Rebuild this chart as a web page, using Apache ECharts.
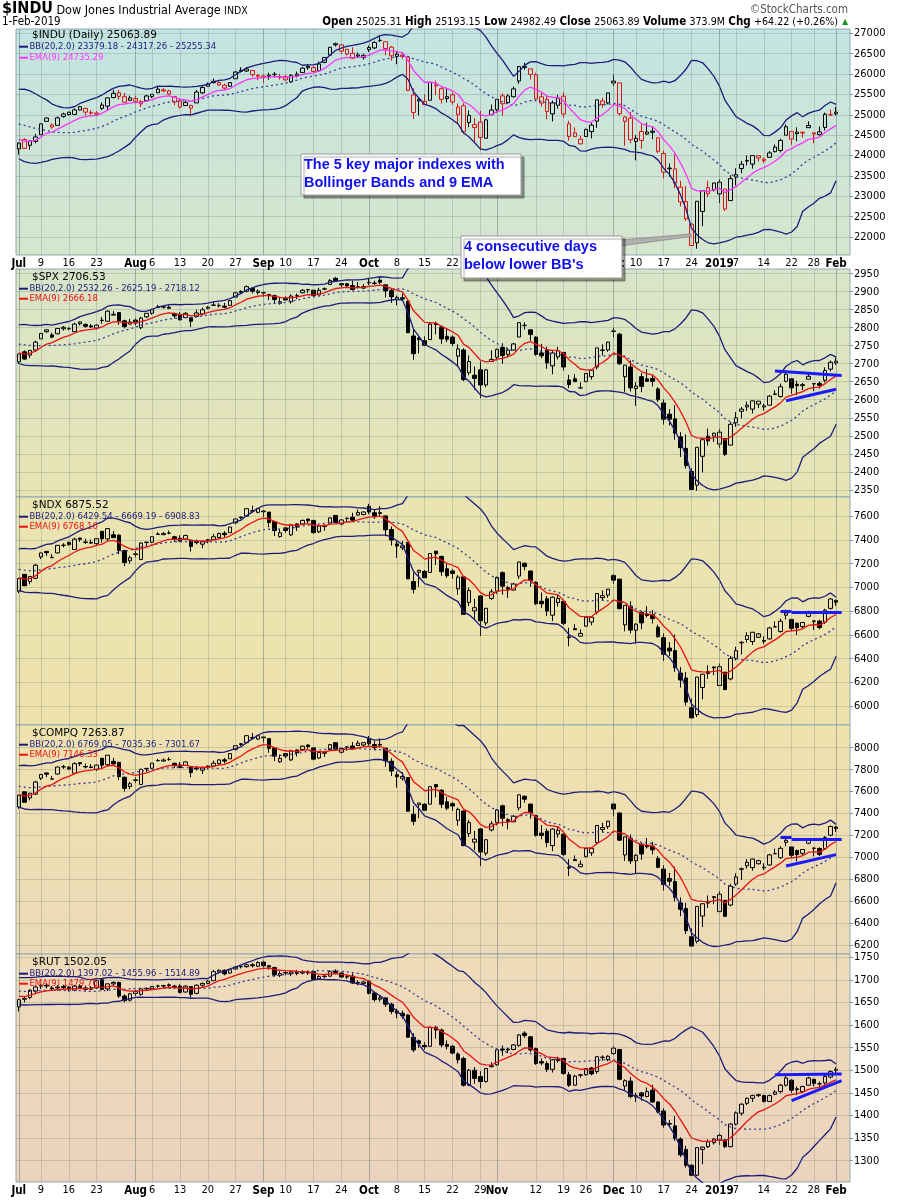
<!DOCTYPE html>
<html>
<head>
<meta charset="utf-8">
<title>$INDU, $SPX, $NDX, $COMPQ, $RUT with Bollinger Bands and 9 EMA</title>
<script src="https://cdn.jsdelivr.net/npm/echarts@6/dist/echarts.min.js"></script>
<style>
  html, body { margin: 0; padding: 0; background: #fff; }
  #chart { width: 900px; height: 1200px; }
</style>
</head>
<body>
<div id="chart"></div>
<script>
// trading days on the x axis, Jul 2 2018 .. Feb 1 2019
const dates = [
  '7/2','7/3','7/5','7/6','7/9','7/10','7/11','7/12','7/13','7/16','7/17','7/18','7/19','7/20','7/23','7/24','7/25','7/26','7/27','7/30','7/31',
  '8/1','8/2','8/3','8/6','8/7','8/8','8/9','8/10','8/13','8/14','8/15','8/16','8/17','8/20','8/21','8/22','8/23','8/24','8/27','8/28','8/29','8/30','8/31',
  '9/4','9/5','9/6','9/7','9/10','9/11','9/12','9/13','9/14','9/17','9/18','9/19','9/20','9/21','9/24','9/25','9/26','9/27','9/28',
  '10/1','10/2','10/3','10/4','10/5','10/8','10/9','10/10','10/11','10/12','10/15','10/16','10/17','10/18','10/19','10/22','10/23','10/24','10/25','10/26','10/29','10/30','10/31',
  '11/1','11/2','11/5','11/6','11/7','11/8','11/9','11/12','11/13','11/14','11/15','11/16','11/19','11/20','11/21','11/23','11/26','11/27','11/28','11/29','11/30',
  '12/3','12/4','12/6','12/7','12/10','12/11','12/12','12/13','12/14','12/17','12/18','12/19','12/20','12/21','12/24','12/26','12/27','12/28','12/31',
  '1/2','1/3','1/4','1/7','1/8','1/9','1/10','1/11','1/14','1/15','1/16','1/17','1/18','1/22','1/23','1/24','1/25','1/28','1/29','1/30','1/31',
  '2/1'
];
const xTickDates = ['7/2','7/9','7/16','7/23','8/1','8/6','8/13','8/20','8/27','9/4','9/10','9/17','9/24','10/1','10/8','10/15','10/22','10/29','11/1','11/12','11/19','11/26','12/3','12/10','12/17','12/24','1/2','1/7','1/14','1/22','1/28','2/1'];
const xTickText = ['Jul','9','16','23','Aug','6','13','20','27','Sep','10','17','24','Oct','8','15','22','29','Nov','12','19','26','Dec','10','17','24','2019','7','14','22','28','Feb'];

// y axis tick labels
const induTicks = [22000, 22500, 23000, 23500, 24000, 24500, 25000, 25500, 26000, 26500, 27000];
const spxTicks = [2350, 2400, 2450, 2500, 2550, 2600, 2650, 2700, 2750, 2800, 2850, 2900, 2950];
const ndxTicks = [6000, 6200, 6400, 6600, 6800, 7000, 7200, 7400, 7600];
const compqTicks = [6200, 6400, 6600, 6800, 7000, 7200, 7400, 7600, 7800, 8000];
const rutTicks = [1300, 1350, 1400, 1450, 1500, 1550, 1600, 1650, 1700, 1750];

// June 2018 closes, only used to seed the 20-day bands and 9-day EMA
const induJune = [24800,25146,25241,25317,25322,25320,25201,25175,25090,24987,24700,24658,24462,24581,24252,24284,24117,24216,24271];
const spxJune = [2749,2772,2770,2779,2782,2787,2776,2782,2780,2774,2763,2767,2750,2755,2717,2723,2700,2716,2718];
const ndxJune = [7150,7190,7140,7150,7165,7205,7195,7260,7250,7245,7220,7270,7210,7190,7045,7075,6965,7020,7025];
const compqJune = [7638,7689,7635,7646,7660,7704,7696,7761,7746,7747,7726,7782,7713,7693,7532,7562,7445,7504,7510];
const rutJune = [1664,1674,1669,1672,1677,1683,1681,1687,1684,1688,1689,1706,1691,1685,1662,1671,1653,1660,1643];

// daily [open, high, low, close]
const induOHLC = [
  [24161,24319,24026,24307],[24394,24424,24161,24175],[24250,24365,24146,24357],[24346,24532,24301,24456],[24510,24786,24510,24776],
  [24839,24935,24839,24920],[24748,24790,24656,24700],[24741,24957,24741,24925],[24958,25054,24929,25019],[25004,25073,24985,25064],
  [25009,25153,24985,25120],[25116,25214,25103,25199],[25156,25175,24980,25065],[25040,25110,24996,25058],[25015,25091,24965,25044],
  [25157,25305,25114,25241],[25211,25425,25118,25415],[25424,25608,25404,25527],[25542,25606,25373,25451],[25442,25535,25296,25307],
  [25354,25472,25350,25415],[25400,25466,25286,25333],[25268,25363,25188,25327],[25345,25492,25340,25463],[25443,25510,25413,25502],
  [25539,25692,25539,25629],[25612,25652,25555,25583],[25586,25615,25474,25509],[25446,25446,25234,25313],[25338,25388,25157,25188],
  [25227,25338,25227,25299],[25231,25231,24966,25162],[25292,25609,25292,25558],[25538,25716,25508,25669],[25699,25790,25690,25759],
  [25790,25888,25767,25822],[25791,25823,25708,25733],[25727,25765,25616,25656],[25700,25801,25690,25790],[25884,26074,25884,26049],
  [26091,26168,26039,26064],[26074,26167,26052,26124],[26087,26095,25929,25986],[25947,26008,25853,25965],[25916,25980,25775,25952],
  [25949,26035,25860,25974],[25985,26049,25913,25995],[25938,26002,25864,25917],[25932,25986,25835,25857],[25810,25995,25781,25971],
  [25960,26061,25915,25999],[26036,26168,26036,26145],[26188,26244,26103,26155],[26159,26189,26052,26062],[26081,26307,26081,26247],
  [26285,26415,26266,26406],[26463,26657,26463,26657],[26716,26770,26677,26744],[26717,26727,26491,26562],[26606,26618,26459,26492],
  [26509,26657,26374,26385],[26469,26531,26405,26440],[26406,26500,26352,26458],[26598,26697,26543,26651],[26640,26809,26614,26774],
  [26825,26952,26786,26828],[26792,26792,26460,26627],[26661,26690,26328,26447],[26431,26569,26241,26487],[26467,26544,26372,26431],
  [26420,26424,25580,25599],[25487,25652,24899,25053],[25378,25401,24986,25340],[25329,25506,25243,25251],[25357,25801,25357,25798],
  [25732,25834,25481,25706],[25640,25687,25279,25380],[25400,25649,25303,25444],[25490,25546,25246,25317],[25000,25277,24778,25191],
  [25221,25283,24532,24583],[24811,25107,24695,24985],[24760,24916,24329,24688],[24820,25094,24123,24443],[24424,24904,24424,24875],
  [25004,25250,24985,25116],[25122,25387,25043,25380],[25464,25528,24971,25271],[25298,25511,25274,25462],[25442,25691,25425,25636],
  [25829,26198,25759,26181],[26161,26277,26104,26191],[26126,26126,25867,25989],[25981,26029,25342,25388],[25441,25539,25207,25287],
  [25379,25483,24891,25081],[25022,25350,24839,25290],[25233,25491,25150,25413],[25457,25561,24926,25018],[24778,24851,24367,24466],
  [24556,24694,24459,24465],[24401,24486,24270,24286],[24467,24662,24467,24640],[24588,24801,24422,24748],[24843,25373,24680,25366],
  [25256,25415,25177,25339],[25289,25538,25253,25538],[25780,25980,25708,25826],[25783,25783,24982,25027],[24839,24968,24242,24947],
  [24920,25071,24304,24389],[24346,24500,23882,24423],[24590,24779,24166,24371],[24578,24807,24509,24527],[24569,24725,24400,24597],
  [24437,24439,24056,24101],[24049,24125,23436,23592],[23690,23804,23480,23675],[23673,24022,23198,23324],[23224,23381,22749,22860],
  [22871,23254,22397,22445],[22317,22339,21792,21792],[21858,22879,21713,22878],[22629,23139,22267,23139],[23213,23381,22982,23062],
  [23153,23333,23118,23327],[23058,23413,22833,23346],[23177,23177,22638,22686],[22894,23518,22894,23433],[23474,23687,23266,23531],
  [23681,23865,23566,23787],[23865,24003,23757,23879],[23790,24002,23678,24001],[23941,24002,23854,23996],[23876,23955,23813,23910],
  [23957,24113,23957,24065],[24095,24271,24075,24207],[24124,24415,24073,24370],[24498,24765,24492,24706],[24592,24592,24259,24404],
  [24539,24691,24349,24575],[24573,24584,24439,24553],[24684,24838,24684,24737],[24558,24558,24300,24528],[24512,24712,24493,24580],
  [24688,25054,24615,25014],[25001,25124,24962,24999],[25025,25193,24982,25064]
];
const spxOHLC = [
  [2705,2727,2699,2727],[2733,2737,2711,2713],[2724,2738,2716,2737],[2738,2764,2734,2760],[2769,2785,2769,2784],
  [2789,2796,2786,2794],[2780,2786,2771,2774],[2783,2799,2782,2798],[2797,2805,2792,2801],[2797,2801,2793,2798],
  [2789,2814,2789,2810],[2811,2817,2806,2816],[2809,2812,2800,2804],[2805,2810,2800,2802],[2799,2809,2795,2807],
  [2821,2830,2811,2820],[2818,2848,2818,2846],[2835,2846,2835,2837],[2842,2843,2808,2819],[2819,2822,2798,2803],
  [2810,2824,2808,2816],[2821,2826,2806,2813],[2800,2830,2796,2827],[2830,2840,2827,2840],[2840,2853,2836,2850],
  [2856,2863,2856,2858],[2857,2862,2853,2858],[2857,2862,2852,2854],[2839,2842,2826,2833],[2835,2843,2820,2822],
  [2828,2843,2827,2840],[2828,2828,2802,2818],[2831,2850,2831,2841],[2838,2856,2834,2850],[2854,2860,2851,2857],
  [2862,2873,2861,2863],[2861,2868,2856,2862],[2860,2869,2854,2857],[2862,2876,2862,2875],[2885,2898,2885,2897],
  [2901,2904,2894,2898],[2901,2917,2898,2914],[2909,2912,2895,2901],[2898,2906,2892,2902],[2897,2900,2885,2897],
  [2892,2894,2877,2889],[2889,2892,2867,2878],[2868,2884,2864,2872],[2881,2887,2876,2877],[2872,2893,2867,2888],
  [2888,2895,2879,2889],[2897,2907,2896,2904],[2906,2908,2896,2905],[2904,2905,2886,2889],[2891,2911,2890,2904],
  [2907,2912,2904,2908],[2920,2935,2920,2931],[2937,2941,2927,2930],[2922,2924,2913,2919],[2922,2924,2914,2916],
  [2917,2931,2903,2906],[2912,2927,2909,2914],[2910,2921,2908,2914],[2926,2937,2918,2925],[2924,2931,2919,2923],
  [2932,2940,2921,2926],[2919,2920,2884,2902],[2903,2910,2869,2886],[2878,2889,2862,2884],[2883,2895,2874,2880],
  [2874,2874,2785,2786],[2777,2795,2711,2728],[2771,2776,2729,2767],[2764,2776,2749,2751],[2767,2813,2767,2810],
  [2812,2817,2782,2809],[2802,2806,2755,2769],[2776,2798,2760,2768],[2774,2779,2749,2756],[2721,2754,2691,2741],
  [2738,2743,2652,2656],[2675,2723,2668,2706],[2668,2692,2628,2659],[2683,2707,2604,2641],[2641,2685,2635,2683],
  [2706,2737,2706,2712],[2718,2742,2709,2740],[2745,2757,2700,2723],[2726,2744,2718,2738],[2738,2757,2737,2755],
  [2774,2815,2774,2814],[2806,2815,2795,2807],[2794,2794,2764,2781],[2774,2776,2722,2726],[2730,2755,2715,2722],
  [2738,2747,2686,2702],[2694,2735,2671,2730],[2719,2747,2712,2736],[2731,2733,2681,2691],[2655,2669,2632,2642],
  [2658,2671,2650,2650],[2633,2648,2631,2633],[2650,2674,2650,2673],[2664,2683,2656,2682],[2691,2744,2684,2744],
  [2737,2754,2723,2738],[2738,2761,2733,2760],[2791,2800,2773,2790],[2782,2786,2697,2700],[2664,2696,2622,2696],
  [2691,2709,2623,2633],[2631,2648,2583,2638],[2664,2674,2621,2637],[2658,2685,2650,2651],[2659,2670,2637,2651],
  [2630,2635,2594,2600],[2591,2601,2531,2546],[2560,2574,2529,2546],[2547,2585,2489,2507],[2497,2510,2441,2467],
  [2465,2504,2409,2417],[2401,2410,2351,2351],[2363,2468,2347,2468],[2443,2489,2398,2489],[2499,2520,2473,2486],
  [2499,2509,2483,2507],[2477,2519,2467,2510],[2492,2493,2444,2448],[2474,2538,2474,2532],[2536,2566,2525,2550],
  [2568,2580,2548,2574],[2580,2595,2569,2585],[2574,2598,2562,2597],[2588,2596,2577,2596],[2580,2589,2570,2583],
  [2585,2613,2585,2610],[2615,2626,2613,2616],[2609,2645,2606,2636],[2651,2675,2648,2671],[2658,2658,2617,2633],
  [2643,2653,2613,2639],[2639,2647,2627,2642],[2657,2672,2657,2665],[2645,2645,2624,2644],[2645,2651,2631,2640],
  [2654,2690,2648,2681],[2685,2709,2679,2704],[2702,2717,2697,2707]
];
const ndxOHLC = [
  [6968,7076,6952,7076],[7111,7112,7013,7015],[7050,7095,7027,7093],[7078,7199,7070,7188],[7257,7292,7240,7291],
  [7304,7306,7266,7293],[7251,7280,7246,7254],[7291,7358,7287,7355],[7355,7373,7338,7356],[7378,7388,7352,7361],
  [7320,7420,7318,7407],[7416,7418,7384,7406],[7383,7411,7366,7379],[7379,7404,7367,7374],[7369,7414,7357,7411],
  [7473,7474,7378,7410],[7409,7498,7392,7496],[7444,7475,7416,7420],[7441,7445,7281,7311],[7311,7317,7180,7210],
  [7225,7267,7200,7250],[7278,7306,7254,7283],[7236,7381,7230,7374],[7379,7384,7350,7382],[7381,7428,7373,7428],
  [7447,7464,7442,7450],[7445,7468,7440,7454],[7458,7479,7448,7458],[7427,7435,7384,7408],[7414,7439,7384,7390],
  [7405,7444,7400,7438],[7399,7399,7303,7346],[7386,7404,7363,7378],[7365,7395,7331,7386],[7403,7408,7372,7391],
  [7401,7451,7400,7427],[7421,7461,7412,7455],[7457,7474,7424,7445],[7462,7510,7461,7509],[7544,7577,7533,7577],
  [7594,7597,7573,7588],[7600,7665,7594,7664],[7647,7689,7630,7643],[7633,7670,7625,7664],[7644,7649,7593,7638],
  [7635,7635,7507,7547],[7555,7558,7434,7479],[7429,7494,7420,7460],[7502,7506,7461,7480],[7443,7536,7433,7526],
  [7535,7539,7476,7509],[7535,7572,7526,7565],[7576,7579,7541,7561],[7565,7567,7452,7462],[7469,7530,7458,7518],
  [7523,7531,7478,7513],[7542,7590,7541,7586],[7607,7610,7543,7548],[7535,7575,7523,7569],[7580,7591,7550,7583],
  [7592,7629,7559,7567],[7610,7656,7606,7632],[7615,7639,7606,7636],[7684,7705,7618,7635],[7630,7660,7578,7600],
  [7630,7685,7599,7624],[7603,7605,7432,7486],[7488,7514,7353,7399],[7367,7399,7250,7349],[7335,7392,7313,7351],
  [7380,7380,7069,7073],[7050,7125,6950,6985],[7129,7145,7006,7145],[7136,7146,7080,7082],[7127,7290,7127,7286],
  [7306,7308,7189,7284],[7261,7269,7098,7133],[7157,7203,7081,7099],[7139,7157,7073,7118],[6989,7104,6940,7088],
  [7090,7091,6769,6774],[6874,6999,6843,6974],[6803,6905,6730,6830],[6929,6938,6591,6719],[6702,6827,6680,6825],
  [6908,6987,6894,6963],[6969,7092,6945,7085],[7125,7135,6939,7011],[7000,7014,6912,6985],[6978,7039,6976,7029],
  [7096,7217,7072,7215],[7204,7211,7145,7177],[7139,7139,7006,7059],[7044,7051,6852,6863],[6884,6958,6828,6863],
  [6905,6928,6759,6801],[6767,6924,6717,6918],[6873,6942,6839,6907],[6883,6887,6682,6698],[6578,6660,6505,6584],
  [6653,6691,6642,6644],[6590,6647,6588,6613],[6674,6750,6669,6749],[6709,6759,6682,6750],[6793,6949,6773,6949],
  [6914,6975,6888,6931],[6936,6988,6914,6986],[7100,7112,7030,7062],[7070,7074,6814,6822],[6685,6851,6631,6850],
  [6842,6882,6612,6641],[6640,6700,6525,6691],[6791,6801,6649,6702],[6776,6843,6748,6764],[6772,6810,6697,6738],
  [6666,6687,6577,6586],[6577,6613,6381,6437],[6490,6540,6423,6465],[6469,6604,6289,6325],[6279,6330,6158,6221],
  [6238,6288,6006,6035],[5987,6065,5902,5902],[5929,6247,5909,6246],[6158,6271,6058,6270],[6291,6345,6232,6276],
  [6331,6333,6263,6323],[6174,6360,6173,6333],[6287,6288,6134,6141],[6230,6423,6218,6402],[6403,6501,6386,6468],
  [6534,6550,6436,6538],[6562,6623,6536,6595],[6545,6626,6517,6623],[6581,6617,6575,6609],[6553,6588,6526,6547],
  [6567,6669,6562,6659],[6668,6714,6664,6669],[6630,6737,6619,6716],[6766,6814,6730,6785],[6731,6731,6634,6655],
  [6699,6706,6600,6661],[6670,6709,6649,6705],[6757,6804,6749,6792],[6715,6724,6643,6718],[6717,6728,6648,6663],
  [6708,6821,6693,6809],[6824,6912,6814,6903],[6890,6899,6846,6876]
];
const compqOHLC = [
  [7460,7568,7444,7568],[7599,7600,7501,7503],[7543,7588,7520,7586],[7578,7699,7570,7688],[7722,7757,7705,7756],
  [7770,7772,7732,7759],[7714,7743,7709,7717],[7760,7827,7756,7824],[7825,7843,7808,7826],[7823,7833,7797,7806],
  [7768,7868,7766,7855],[7864,7866,7832,7854],[7829,7857,7812,7825],[7825,7850,7813,7820],[7800,7845,7788,7842],
  [7904,7905,7809,7841],[7845,7934,7828,7932],[7876,7907,7848,7852],[7867,7871,7707,7737],[7731,7737,7600,7630],
  [7647,7689,7622,7672],[7702,7730,7678,7707],[7665,7810,7659,7803],[7809,7814,7780,7812],[7813,7860,7805,7860],
  [7881,7898,7876,7884],[7879,7902,7874,7888],[7892,7913,7882,7892],[7858,7866,7815,7839],[7844,7869,7814,7820],
  [7838,7877,7833,7871],[7827,7827,7731,7774],[7815,7833,7792,7807],[7795,7825,7761,7816],[7833,7838,7802,7821],
  [7833,7883,7832,7859],[7855,7895,7846,7889],[7890,7907,7857,7878],[7899,7947,7898,7946],[7985,8018,7974,8018],
  [8036,8039,8015,8030],[8046,8111,8040,8110],[8092,8134,8075,8088],[8079,8116,8071,8110],[8097,8102,8046,8091],
  [8083,8083,7955,7995],[7999,8002,7878,7923],[7872,7937,7863,7903],[7946,7950,7905,7924],[7889,7982,7879,7972],
  [7980,7984,7921,7954],[7984,8021,7975,8014],[8025,8028,7990,8010],[7999,8001,7886,7896],[7907,7968,7896,7956],
  [7960,7968,7915,7950],[7984,8032,7983,8028],[8046,8049,7982,7987],[7959,7999,7947,7993],[8004,8015,7974,8007],
  [8015,8052,7982,7990],[8020,8066,8016,8042],[8025,8049,8016,8046],[8086,8107,8020,8037],[8030,8060,7978,8000],
  [8031,8086,8000,8025],[7997,7999,7826,7880],[7877,7903,7742,7788],[7754,7786,7637,7736],[7722,7779,7700,7738],
  [7729,7729,7418,7422],[7394,7469,7294,7329],[7481,7497,7358,7497],[7485,7495,7429,7431],[7486,7649,7486,7645],
  [7665,7667,7548,7643],[7613,7621,7450,7485],[7507,7553,7431,7449],[7490,7508,7424,7469],[7339,7454,7290,7438],
  [7424,7425,7103,7108],[7218,7343,7187,7318],[7140,7242,7067,7167],[7260,7269,6922,7050],[7039,7164,7017,7162],
  [7251,7330,7237,7306],[7318,7441,7294,7434],[7471,7481,7285,7357],[7344,7358,7256,7329],[7325,7386,7323,7376],
  [7452,7573,7428,7571],[7558,7565,7499,7531],[7487,7487,7354,7407],[7382,7389,7190,7201],[7222,7296,7166,7201],
  [7240,7263,7094,7136],[7108,7265,7058,7259],[7214,7283,7180,7248],[7213,7217,7012,7028],[6903,6985,6830,6909],
  [6981,7019,6970,6972],[6916,6973,6914,6939],[7007,7083,7002,7082],[7042,7092,7015,7083],[7136,7292,7116,7292],
  [7256,7317,7230,7273],[7281,7333,7259,7331],[7487,7487,7375,7442],[7406,7410,7150,7158],[7023,7189,6969,7188],
  [7170,7210,6940,6969],[6970,7030,6855,7021],[7121,7131,6979,7032],[7110,7177,7082,7098],[7104,7142,7029,7070],
  [6991,7012,6902,6911],[6894,6930,6698,6754],[6809,6859,6742,6784],[6781,6916,6601,6637],[6586,6637,6465,6528],
  [6536,6586,6304,6333],[6278,6356,6193,6193],[6237,6555,6217,6554],[6467,6580,6367,6579],[6600,6654,6541,6585],
  [6643,6645,6575,6635],[6507,6693,6506,6666],[6610,6611,6457,6464],[6567,6760,6555,6739],[6758,6856,6741,6823],
  [6893,6909,6795,6897],[6924,6985,6898,6957],[6908,6989,6880,6986],[6943,6979,6937,6971],[6912,6947,6885,6906],
  [6932,7034,6927,7024],[7034,7080,7030,7035],[6998,7105,6987,7084],[7138,7186,7102,7157],[7096,7096,6999,7020],
  [7064,7071,6965,7026],[7038,7077,7017,7073],[7130,7177,7122,7165],[7083,7092,7011,7086],[7082,7093,7013,7028],
  [7082,7195,7067,7183],[7203,7291,7193,7282],[7278,7287,7234,7264]
];
const rutOHLC = [
  [1640,1658,1630,1656],[1657,1662,1650,1659],[1661,1679,1657,1677],[1675,1687,1670,1684],[1686,1690,1680,1688],
  [1688,1690,1681,1686],[1682,1686,1677,1680],[1682,1688,1676,1684],[1685,1689,1679,1683],[1684,1686,1674,1680],
  [1677,1688,1675,1686],[1686,1690,1680,1683],[1682,1686,1676,1679],[1679,1686,1677,1682],[1682,1700,1680,1698],
  [1700,1703,1677,1679],[1680,1692,1675,1691],[1691,1697,1688,1694],[1694,1696,1660,1664],[1664,1668,1650,1654],
  [1655,1671,1652,1669],[1670,1677,1664,1674],[1668,1682,1665,1680],[1680,1683,1676,1681],[1680,1686,1677,1685],
  [1686,1689,1682,1686],[1686,1689,1681,1687],[1687,1692,1684,1689],[1686,1689,1680,1685],[1686,1690,1670,1672],
  [1673,1688,1672,1686],[1685,1686,1661,1668],[1670,1690,1668,1688],[1688,1694,1684,1692],[1692,1699,1690,1697],
  [1698,1722,1697,1718],[1717,1723,1714,1721],[1721,1723,1710,1713],[1715,1724,1713,1722],[1724,1731,1722,1728],
  [1729,1733,1725,1729],[1729,1735,1727,1733],[1733,1737,1727,1731],[1730,1741,1728,1738],[1739,1742,1727,1731],
  [1731,1733,1722,1728],[1727,1729,1707,1711],[1710,1719,1706,1714],[1715,1720,1710,1716],[1713,1720,1708,1717],
  [1717,1722,1710,1714],[1715,1721,1712,1716],[1717,1720,1711,1715],[1718,1720,1700,1701],[1702,1710,1700,1707],
  [1707,1712,1703,1708],[1708,1721,1707,1718],[1719,1723,1712,1716],[1715,1717,1704,1706],[1706,1711,1702,1707],
  [1708,1714,1691,1693],[1694,1699,1688,1693],[1692,1698,1689,1695],[1697,1699,1668,1670],[1671,1674,1652,1656],
  [1657,1666,1652,1660],[1660,1661,1640,1646],[1646,1649,1624,1630],[1631,1636,1615,1626],[1626,1632,1614,1620],
  [1622,1624,1572,1573],[1573,1582,1540,1545],[1565,1568,1549,1559],[1555,1562,1546,1552],[1553,1597,1553,1595],
  [1595,1598,1570,1589],[1589,1592,1551,1556],[1557,1566,1546,1553],[1553,1556,1535,1538],[1536,1540,1515,1523],
  [1526,1530,1464,1467],[1467,1503,1465,1500],[1500,1507,1470,1482],[1486,1498,1460,1475],[1475,1505,1473,1504],
  [1508,1518,1506,1510],[1512,1546,1510,1545],[1547,1555,1532,1545],[1545,1550,1538,1547],[1546,1558,1544,1556],
  [1555,1580,1552,1578],[1582,1586,1572,1577],[1574,1575,1540,1545],[1548,1550,1512,1515],[1519,1526,1511,1516],
  [1515,1520,1496,1502],[1502,1525,1495,1523],[1521,1530,1517,1524],[1526,1528,1490,1493],[1490,1496,1463,1467],
  [1467,1490,1466,1487],[1489,1492,1484,1490],[1490,1505,1488,1504],[1505,1507,1489,1492],[1497,1531,1492,1530],
  [1529,1533,1521,1528],[1524,1533,1520,1531],[1537,1553,1534,1549],[1546,1547,1478,1480],[1465,1480,1455,1477],
  [1476,1485,1438,1442],[1441,1450,1430,1444],[1450,1452,1433,1443],[1442,1462,1440,1453],[1456,1468,1428,1430],
  [1430,1432,1405,1408],[1410,1416,1373,1379],[1382,1390,1374,1381],[1377,1399,1344,1349],[1348,1352,1308,1313],
  [1325,1333,1285,1290],[1290,1292,1266,1268],[1268,1330,1266,1329],[1325,1331,1292,1330],[1331,1347,1328,1342],
  [1340,1350,1336,1348],[1346,1360,1335,1356],[1346,1348,1328,1331],[1331,1383,1330,1381],[1381,1409,1378,1406],
  [1405,1427,1400,1425],[1427,1440,1423,1438],[1438,1446,1430,1444],[1444,1448,1441,1446],[1444,1446,1429,1431],
  [1431,1446,1430,1444],[1447,1456,1445,1452],[1453,1470,1449,1467],[1467,1487,1464,1483],[1478,1480,1450,1456],
  [1459,1464,1445,1457],[1453,1466,1450,1464],[1467,1486,1466,1483],[1480,1481,1465,1471],[1470,1475,1463,1470],
  [1472,1490,1468,1486],[1485,1500,1482,1497],[1500,1507,1494,1502]
];

// hand-drawn trend lines: [[dayIndex, value], [dayIndex, value]]
const spxTrend = [[[136, 2680], [148, 2667]], [[138, 2597], [147, 2629]]];
const ndxTrend = [[[137, 6800], [139, 6800]], [[139, 6789], [148, 6789]]];
const compqTrend = [[[137, 7180], [139, 7180]], [[139, 7169], [148, 7169]], [[138, 6922], [147, 7026]]];
const rutTrend = [[[136, 1490], [148, 1492]], [[139, 1433], [148, 1477]]];

// legend texts shown in each panel
const induLegend = ['$INDU (Daily) 25063.89', 'BB(20,2.0) 23379.18 - 24317.26 - 25255.34', 'EMA(9) 24735.29'];
const spxLegend = ['$SPX 2706.53', 'BB(20,2.0) 2532.26 - 2625.19 - 2718.12', 'EMA(9) 2666.18'];
const ndxLegend = ['$NDX 6875.52', 'BB(20,2.0) 6429.54 - 6669.19 - 6908.83', 'EMA(9) 6768.16'];
const compqLegend = ['$COMPQ 7263.87', 'BB(20,2.0) 6769.05 - 7035.36 - 7301.67', 'EMA(9) 7146.33'];
const rutLegend = ['$RUT 1502.05', 'BB(20,2.0) 1397.02 - 1455.96 - 1514.89', 'EMA(9) 1479.76'];

const headerQuote = [['Open', '25025.31'], ['High', '25193.15'], ['Low', '24982.49'], ['Close', '25063.89'], ['Volume', '373.9M'], ['Chg', '+64.22 (+0.26%)']];

const NARROW = '"Liberation Sans Narrow", "Arial Narrow", "DejaVu Sans Condensed", sans-serif';
const VERDANA = '"DejaVu Sans", Verdana, sans-serif';
const ARIAL = '"Liberation Sans", Arial, sans-serif';
const NAVY = '#1b1b7e';
const RED = '#e01010';
const GRID_LINE = 'rgba(80, 100, 100, 0.22)';
const MONTH_LINE = 'rgba(80, 100, 100, 0.42)';
const TREND_BLUE = '#1a1aff';

const categories = dates.concat([' ', '  ']);

const PANELS = [
  { name: 'INDU', ohlc: induOHLC, warm: induJune, ticks: induTicks, range: [21559, 27105], top: 29, height: 226,
    colorByPrev: true, emaColor: '#ff33ff', legend: induLegend, legendDy: [6, 17.7, 28.7], trend: [],
    bg: ['#c3e4e2', '#d6e6cd'], showDates: true },
  { name: 'SPX', ohlc: spxOHLC, warm: spxJune, ticks: spxTicks, range: [2330, 2963], top: 269, height: 228,
    emaColor: '#ee1111', legend: spxLegend, legendDy: [8, 19.7, 29.7], trend: spxTrend, bg: ['#d8e5c8', '#e7e4b4'] },
  { name: 'NDX', ohlc: ndxOHLC, warm: ndxJune, ticks: ndxTicks, range: [5842, 7762], top: 497, height: 228,
    emaColor: '#ee1111', legend: ndxLegend, legendDy: [8, 19.7, 29.7], trend: ndxTrend, bg: ['#e9e4b2', '#eee2ac'] },
  { name: 'COMPQ', ohlc: compqOHLC, warm: compqJune, ticks: compqTicks, range: [6121, 8207], top: 725, height: 229,
    emaColor: '#ee1111', legend: compqLegend, legendDy: [8, 19.7, 29.7], trend: compqTrend, bg: ['#efe2ae', '#ecdab8'] },
  { name: 'RUT', ohlc: rutOHLC, warm: rutJune, ticks: rutTicks, range: [1253, 1757], top: 954, height: 228,
    emaColor: '#ee1111', legend: rutLegend, legendDy: [8, 19.7, 29.7], trend: rutTrend, bg: ['#eedcb9', '#ebd3bd'], showDates: true }
];

// 20-day Bollinger Bands (2 sd) and 9-day EMA on closes
function indicators(warm, ohlc) {
  const closes = warm.concat(ohlc.map((r) => r[3]));
  const upper = [];
  const middle = [];
  const lower = [];
  const ema = [];
  let e = closes[0];
  closes.forEach((v, i) => {
    if (i > 0) e += (v - e) * 0.2;
    if (i < warm.length) return;
    const w = closes.slice(i - 19, i + 1);
    const m = w.reduce((a, b) => a + b, 0) / w.length;
    const sd = Math.sqrt(w.reduce((a, b) => a + (b - m) * (b - m), 0) / w.length);
    upper.push(m + 2 * sd);
    middle.push(m);
    lower.push(m - 2 * sd);
    ema.push(e);
  });
  return { upper, middle, lower, ema };
}

function candleItems(panel) {
  return panel.ohlc.map(([o, h, l, c], i) => {
    const item = { value: [o, c, l, h] };
    if (panel.colorByPrev) {
      const prev = i ? panel.ohlc[i - 1][3] : panel.warm[panel.warm.length - 1];
      const col = c < prev ? RED : '#000';
      item.itemStyle = { color: 'transparent', color0: col, borderColor: col, borderColor0: col };
    }
    return item;
  });
}

const tickLabelOf = {};
xTickDates.forEach((d, i) => { tickLabelOf[d] = xTickText[i]; });
const isMonthLabel = (t) => !/^\d{1,2}$/.test(t);

const grids = [];
const xAxes = [];
const yAxes = [];
const series = [];
const graphics = [];

PANELS.forEach((p, i) => {
  grids.push({
    left: 16, width: 834, top: p.top, height: p.height,
    show: true, borderColor: '#8eaab2', borderWidth: 1,
    backgroundColor: new echarts.graphic.LinearGradient(0, 0, 0, 1, [
      { offset: 0, color: p.bg[0] }, { offset: 1, color: p.bg[1] }
    ])
  });
  xAxes.push({
    type: 'category', gridIndex: i, data: categories, boundaryGap: true,
    axisLine: { show: false }, axisTick: { show: false }, splitLine: { show: false },
    axisLabel: {
      show: !!p.showDates,
      interval: (idx, value) => tickLabelOf[value] !== undefined,
      formatter: (value) => {
        const t = tickLabelOf[value];
        return isMonthLabel(t) ? `{m|${t}}` : t;
      },
      margin: 3, color: '#000', fontFamily: NARROW, fontSize: 11,
      rich: { m: { fontFamily: NARROW, fontSize: 11.5, fontWeight: 'bold', color: '#000' } }
    }
  });
  yAxes.push({
    type: 'value', gridIndex: i, position: 'right', min: p.range[0], max: p.range[1],
    axisLine: { show: false }, splitLine: { show: false },
    axisTick: { show: true, length: 3, customValues: p.ticks, lineStyle: { color: '#7d98a0' } },
    axisLabel: {
      customValues: p.ticks, margin: 4, color: '#000', fontFamily: NARROW, fontSize: 11,
      formatter: (v) => String(v)
    }
  });

  const closes = p.ohlc.map((r) => r[3]);
  const gridLines = p.ticks.map((v) => ({ yAxis: v, lineStyle: { color: GRID_LINE, width: 1, type: 'solid' } }))
    .concat(xTickDates.map((d) => ({
      xAxis: d,
      lineStyle: { color: isMonthLabel(tickLabelOf[d]) ? MONTH_LINE : GRID_LINE, width: 1, type: 'solid' }
    })));
  series.push({
    type: 'line', xAxisIndex: i, yAxisIndex: i, data: closes, silent: true, z: 1,
    symbol: 'none', lineStyle: { opacity: 0, width: 0 },
    markLine: { silent: true, symbol: ['none', 'none'], label: { show: false }, animation: false, data: gridLines }
  });

  series.push({
    name: p.name, type: 'candlestick', xAxisIndex: i, yAxisIndex: i, z: 3, barWidth: 4,
    data: candleItems(p),
    itemStyle: { color: 'transparent', color0: '#000', borderColor: '#000', borderColor0: '#000', borderWidth: 1 }
  });

  const ind = indicators(p.warm, p.ohlc);
  const line = (data, color, type, width) => ({
    type: 'line', xAxisIndex: i, yAxisIndex: i, z: 4, data, symbol: 'none', silent: true,
    lineStyle: { color, width, type }
  });
  series.push(line(ind.upper, NAVY, 'solid', 1.3));
  series.push(line(ind.lower, NAVY, 'solid', 1.3));
  series.push(line(ind.middle, '#38389a', [2, 3], 1.3));
  series.push(line(ind.ema, p.emaColor, 'solid', 1.3));

  if (p.trend.length) {
    series.push({
      type: 'line', xAxisIndex: i, yAxisIndex: i, data: closes, silent: true, z: 5,
      symbol: 'none', lineStyle: { opacity: 0, width: 0 },
      markLine: {
        silent: true, symbol: ['none', 'none'], label: { show: false }, animation: false,
        lineStyle: { color: TREND_BLUE, width: 3, type: 'solid' },
        data: p.trend.map(([a, b]) => [{ coord: a }, { coord: b }])
      }
    });
  }

  // in-panel legend
  graphics.push({
    type: 'text', x: 32, y: p.top + p.legendDy[0], z: 50,
    style: { text: p.legend[0], fill: '#000', fontFamily: VERDANA, fontSize: 10.5, textVerticalAlign: 'middle' }
  });
  graphics.push({ type: 'rect', x: 19, y: p.top + p.legendDy[1] - 1, z: 50, shape: { width: 9, height: 2 }, style: { fill: NAVY } });
  graphics.push({
    type: 'text', x: 29.5, y: p.top + p.legendDy[1], z: 50,
    style: { text: p.legend[1], fill: NAVY, fontFamily: VERDANA, fontSize: 8.5, textVerticalAlign: 'middle' }
  });
  graphics.push({ type: 'rect', x: 19, y: p.top + p.legendDy[2] - 1, z: 50, shape: { width: 9, height: 2 }, style: { fill: p.emaColor } });
  graphics.push({
    type: 'text', x: 29.5, y: p.top + p.legendDy[2], z: 50,
    style: { text: p.legend[2], fill: p.emaColor, fontFamily: VERDANA, fontSize: 8.5, textVerticalAlign: 'middle' }
  });
});

// header
graphics.push({
  type: 'text', x: 2, y: 17, z: 50,
  style: {
    text: '{a|$INDU} {b|Dow Jones Industrial Average} {c|INDX}',
    textVerticalAlign: 'bottom',
    rich: {
      a: { fontFamily: NARROW, fontSize: 16, fontWeight: 'bold', fill: '#000', verticalAlign: 'bottom' },
      b: { fontFamily: NARROW, fontSize: 12.5, fill: '#000', verticalAlign: 'bottom' },
      c: { fontFamily: NARROW, fontSize: 10.5, fill: '#000', verticalAlign: 'bottom' }
    }
  }
});
graphics.push({
  type: 'text', x: 2, y: 22, z: 50,
  style: { text: '1-Feb-2019', fill: '#000', fontFamily: NARROW, fontSize: 11.5, textVerticalAlign: 'middle' }
});
graphics.push({
  type: 'text', x: 848, y: 10, z: 50,
  style: { text: '\u00a9StockCharts.com', fill: '#555', fontFamily: NARROW, fontSize: 11.5, textAlign: 'right', textVerticalAlign: 'middle' }
});
graphics.push({
  type: 'text', x: 838, y: 22, z: 50,
  style: {
    text: headerQuote.map(([k, v]) => `{k|${k}} {v|${v}}`).join(' '),
    textAlign: 'right', textVerticalAlign: 'middle',
    rich: {
      k: { fontFamily: NARROW, fontSize: 11.5, fontWeight: 'bold', fill: '#000' },
      v: { fontFamily: NARROW, fontSize: 10.6, fill: '#000' }
    }
  }
});
graphics.push({
  type: 'text', x: 845, y: 22, z: 50,
  style: { text: '\u25b2', fill: '#1a9a1a', fontFamily: VERDANA, fontSize: 8, textAlign: 'center', textVerticalAlign: 'middle' }
});

// annotation boxes
function noteBox(x, y, w, h, lines) {
  graphics.push({
    type: 'rect', x, y, z: 60, shape: { width: w, height: h },
    style: { fill: '#fff', stroke: '#9a9a9a', lineWidth: 1, shadowColor: 'rgba(0,0,0,0.35)', shadowOffsetX: 3, shadowOffsetY: 3, shadowBlur: 1 }
  });
  lines.forEach((t, k) => {
    graphics.push({
      type: 'text', x: x + 3, y: y + 10.5 + k * 18.4, z: 61,
      style: { text: t, fill: '#1010ee', fontFamily: ARIAL, fontSize: 14.5, fontWeight: 'bold', textVerticalAlign: 'middle' }
    });
  });
}
graphics.push({
  type: 'polygon', z: 59,
  shape: { points: [[620, 240], [691, 234], [691, 236.5], [620, 246]] },
  style: { fill: '#b0b0b0', stroke: '#8a8a8a', lineWidth: 0.8 }
});
noteBox(301, 154, 220, 41, ['The 5 key major indexes with', 'Bollinger Bands and 9 EMA']);
noteBox(461, 236, 161, 42, ['4 consecutive days', "below lower BB's"]);

const chart = echarts.init(document.getElementById('chart'), null, { renderer: 'canvas', width: 900, height: 1200 });
chart.setOption({
  animation: false,
  backgroundColor: '#fff',
  grid: grids,
  xAxis: xAxes,
  yAxis: yAxes,
  series,
  graphic: graphics
});
</script>
</body>
</html>
